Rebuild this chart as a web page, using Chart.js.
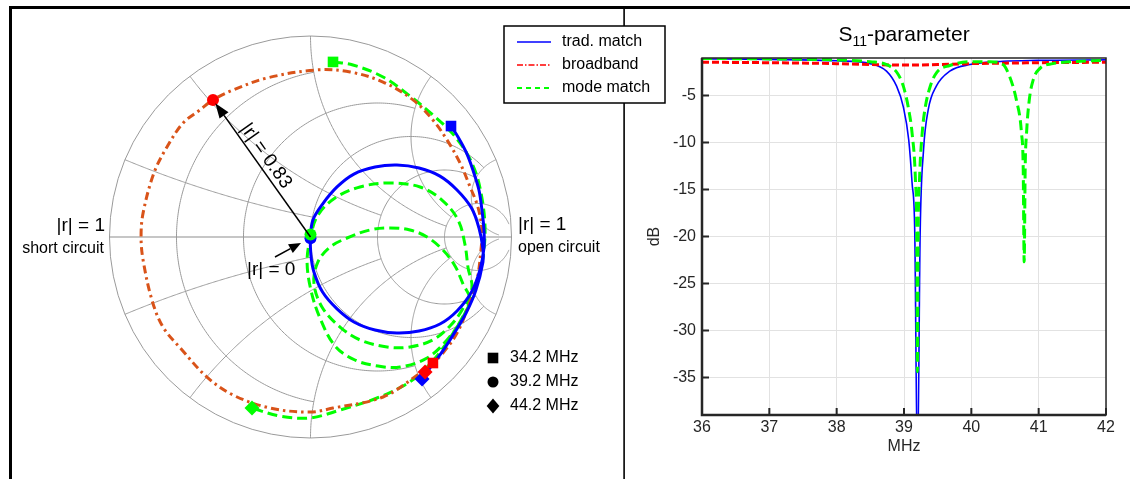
<!DOCTYPE html>
<html>
<head>
<meta charset="utf-8">
<script src="https://cdn.jsdelivr.net/npm/chart.js@4.4.1/dist/chart.umd.min.js"></script>
<style>
html, body { margin: 0; padding: 0; background: #fff; overflow: hidden; }
#wrap { position: relative; width: 1130px; height: 479px; }
#wrap canvas { position: absolute; left: 0; top: 0; }
</style>
</head>
<body>
<div id="wrap">
  <canvas id="s11" width="1130" height="479"></canvas>
  <canvas id="smith" width="1130" height="479"></canvas>
</div>
<script>
(() => {
'use strict';
const FONT = '"Liberation Sans", Arial, Helvetica, sans-serif';
const BLUE = '#0000ff', ORANGE = '#d95319', RED = '#ff0000', GREEN = '#00ff00', INK = '#000000';

// ---- Smith chart traces: reflection coefficient (Re, Im) ----
const tradRe = [0.699, 0.734, 0.774, 0.808, 0.838, 0.853, 0.863, 0.863, 0.843, 0.801, 0.729, 0.644, 0.540, 0.430, 0.321, 0.216, 0.132, 0.060, 0.017, 0.002, 0, 0.012, 0.060, 0.132, 0.216, 0.321, 0.430, 0.540, 0.644, 0.729, 0.801, 0.838, 0.858, 0.858, 0.823, 0.774, 0.709, 0.644, 0.590, 0.555];
const tradIm = [0.552, 0.498, 0.423, 0.333, 0.234, 0.134, 0.035, -0.055, -0.164, -0.274, -0.368, -0.433, -0.468, -0.478, -0.463, -0.423, -0.358, -0.274, -0.174, -0.090, 0, 0.085, 0.164, 0.249, 0.313, 0.348, 0.358, 0.343, 0.303, 0.234, 0.144, 0.045, -0.060, -0.124, -0.264, -0.378, -0.488, -0.587, -0.657, -0.706];

const broadRe = [0.609, 0.545, 0.361, 0.112, -0.002, -0.201, -0.386, -0.515, -0.639, -0.734, -0.789, -0.833, -0.843, -0.833, -0.779, -0.714, -0.634, -0.550, -0.485, -0.386, -0.216, 0.027, 0.197, 0.361, 0.510, 0.609, 0.679, 0.744, 0.794, 0.833, 0.853, 0.848, 0.828, 0.784, 0.729, 0.659, 0.570];
const broadIm = [-0.627, -0.677, -0.796, -0.851, -0.871, -0.851, -0.786, -0.697, -0.562, -0.448, -0.313, -0.114, 0, 0.119, 0.318, 0.448, 0.567, 0.632, 0.682, 0.731, 0.791, 0.831, 0.821, 0.771, 0.682, 0.582, 0.483, 0.368, 0.249, 0.149, 0.035, -0.065, -0.214, -0.348, -0.478, -0.577, -0.672];

const modeRe = [0.112, 0.211, 0.361, 0.495, 0.609, 0.704, 0.774, 0.823, 0.853, 0.868, 0.863, 0.843, 0.808,
  0.759, 0.679, 0.580, 0.445, 0.336, 0.221, 0.122, 0.047, 0.002, -0.017, 0, 0.037, 0.122, 0.246, 0.396, 0.545, 0.654, 0.734, 0.769, 0.784, 0.803,
  0.754, 0.694, 0.609, 0.495, 0.381, 0.246, 0.147, 0.057, 0.017, 0.037, 0.097, 0.182, 0.296, 0.396, 0.495, 0.580, 0.659, 0.719, 0.759, 0.794,
  0.754, 0.694, 0.629, 0.555, 0.470, 0.331, 0.147, -0.002, -0.152, -0.291];
const modeIm = [0.871, 0.856, 0.796, 0.701, 0.607, 0.517, 0.423, 0.318, 0.194, 0.060, -0.065, -0.174, -0.274,
  -0.398, -0.512, -0.602, -0.647, -0.642, -0.612, -0.542, -0.403, -0.264, -0.124, 0, 0.109, 0.194, 0.249, 0.269, 0.249, 0.184, 0.085, -0.040, -0.154, -0.254,
  -0.363, -0.443, -0.512, -0.547, -0.547, -0.512, -0.448, -0.348, -0.229, -0.124, -0.050, -0.005, 0.035, 0.045, 0.035, 0, -0.065, -0.144, -0.234, -0.313,
  -0.403, -0.502, -0.592, -0.672, -0.736, -0.801, -0.861, -0.900, -0.891, -0.851];

// markers at 34.2 / 39.2 / 44.2 MHz
const markerLabels = ['34.2 MHz', '39.2 MHz', '44.2 MHz'];
const markerStyles = ['rect', 'circle', 'rectRot'];
const tradMarkRe = [0.699, 0, 0.555],      tradMarkIm = [0.552, -0.006, -0.706];
const broadMarkRe = [0.609, -0.485, 0.570], broadMarkIm = [-0.627, 0.682, -0.672];
const modeMarkRe = [0.112, 0, -0.291],     modeMarkIm = [0.871, 0.012, -0.851];

// Smith grid (resistance / reactance values and where each one stops)
const gridValues = [0.2, 0.5, 1, 2, 5];
const gridLimits = [1, 2, 5, 5, 30];

// ---- S11 magnitude ----
const tradFreq = [36, 37, 38, 38.5, 38.74, 38.89, 38.99, 39.07, 39.12, 39.16, 39.2, 39.24, 39.29, 39.36, 39.48, 39.68, 39.98, 40.47, 40.98, 42];
const tradDb   = [-1.1, -1.15, -1.3, -1.6, -2.4, -4.0, -6.2, -9.7, -14.3, -19.6, -45, -19.6, -10.8, -6.5, -4.0, -2.4, -1.7, -1.35, -1.25, -1.2];
const broadFreq = [36, 37, 38, 38.5, 39, 39.5, 40, 40.5, 41, 42];
const broadDb   = [-1.45, -1.5, -1.6, -1.7, -1.75, -1.7, -1.6, -1.55, -1.5, -1.45];
const modeFreq = [36, 37, 38, 38.5, 38.74, 38.9, 38.99, 39.07, 39.12, 39.17, 39.19, 39.2, 39.21, 39.23, 39.27, 39.31, 39.39, 39.49, 39.68, 39.98, 40.28, 40.47, 40.57, 40.67, 40.745, 40.77, 40.785, 40.8, 40.82, 40.86, 40.92, 41.02, 41.21, 41.47, 42];
const modeDb   = [-1.05, -1.1, -1.2, -1.4, -1.7, -2.6, -4.0, -6.5, -9.0, -14, -20, -34.4, -20, -14, -9.0, -6.5, -4.0, -2.5, -1.8, -1.4, -1.4, -1.7, -3.0, -5.5, -9.0, -12.6, -22.7, -12.6, -9.0, -5.5, -3.3, -2.1, -1.6, -1.4, -1.25];

const freqTicks = [36, 37, 38, 39, 40, 41, 42];
const dbTicks = [-35, -30, -25, -20, -15, -10, -5];
const seriesNames = ['trad. match', 'broadband', 'mode match'];

const pts = (xs, ys) => xs.map((v, i) => ({ x: v, y: ys[i] }));

function gammaOf(r, x) { // z = r + jx -> reflection coefficient
    const d = (r + 1) * (r + 1) + x * x;
    return [(r * r + x * x - 1) / d, 2 * x / d];
}

function arrow(ctx, from, to, headLen, headHalf) {
    const ang = Math.atan2(to[1] - from[1], to[0] - from[0]);
    const bx = to[0] - headLen * Math.cos(ang), by = to[1] - headLen * Math.sin(ang);
    ctx.strokeStyle = INK; ctx.lineWidth = 1.5; ctx.setLineDash([]);
    ctx.beginPath(); ctx.moveTo(from[0], from[1]); ctx.lineTo(bx, by); ctx.stroke();
    ctx.beginPath();
    ctx.moveTo(to[0], to[1]);
    ctx.lineTo(bx + headHalf * Math.sin(ang), by - headHalf * Math.cos(ang));
    ctx.lineTo(bx - headHalf * Math.sin(ang), by + headHalf * Math.cos(ang));
    ctx.closePath(); ctx.fillStyle = INK; ctx.fill();
}

function marker(ctx, style, x, y, r) {
    ctx.beginPath();
    if (style === 'rect') { const s = r * Math.SQRT1_2; ctx.rect(x - s, y - s, 2 * s, 2 * s); }
    else if (style === 'rectRot') { ctx.moveTo(x, y - r); ctx.lineTo(x + r * 0.85, y); ctx.lineTo(x, y + r); ctx.lineTo(x - r * 0.85, y); ctx.closePath(); }
    else ctx.arc(x, y, r, 0, Math.PI * 2);
    ctx.fill();
}

const smithPlugin = {
    id: 'smithGrid',
    beforeDatasetsDraw(chart) {
        const { ctx, scales: { x, y } } = chart;
        const P = (gx, gy) => [x.getPixelForValue(gx), y.getPixelForValue(gy)];
        const poly = (list) => {
            ctx.beginPath();
            list.forEach((p, i) => { const q = P(p[0], p[1]); i ? ctx.lineTo(q[0], q[1]) : ctx.moveTo(q[0], q[1]); });
            ctx.stroke();
        };
        ctx.save();
        // real axis
        ctx.strokeStyle = '#c6c6c6'; ctx.lineWidth = 2;
        poly([[-1, 0], [1, 0]]);
        ctx.strokeStyle = '#9a9a9a'; ctx.lineWidth = 1;
        // outer circle
        const c0 = P(0, 0), rad = x.getPixelForValue(1) - c0[0];
        ctx.beginPath(); ctx.arc(c0[0], c0[1], rad, 0, Math.PI * 2); ctx.stroke();
        // constant resistance circles
        gridValues.forEach((r, i) => {
            const c = r / (1 + r), rho = 1 / (1 + r);
            const e = gammaOf(r, gridLimits[i]);
            const a = Math.atan2(e[1], e[0] - c);
            const list = [];
            for (let k = 0; k <= 240; k++) {
                const t = a + (2 * Math.PI - 2 * a) * k / 240;
                list.push([c + rho * Math.cos(t), rho * Math.sin(t)]);
            }
            poly(list);
        });
        // constant reactance arcs
        gridValues.forEach((v, i) => {
            [v, -v].forEach(xv => {
                const cy = 1 / xv, rho = Math.abs(1 / xv);
                const p1 = gammaOf(0, xv), p2 = gammaOf(gridLimits[i], xv);
                const a1 = Math.atan2(p1[1] - cy, p1[0] - 1);
                let d = Math.atan2(p2[1] - cy, p2[0] - 1) - a1;
                while (d > Math.PI) d -= 2 * Math.PI;
                while (d < -Math.PI) d += 2 * Math.PI;
                const list = [];
                for (let k = 0; k <= 160; k++) {
                    const t = a1 + d * k / 160;
                    list.push([1 + rho * Math.cos(t), cy + rho * Math.sin(t)]);
                }
                poly(list);
            });
        });
        ctx.restore();
    },
    afterDraw(chart) {
        const { ctx, scales: { x, y } } = chart;
        const P = (gx, gy) => [x.getPixelForValue(gx), y.getPixelForValue(gy)];
        ctx.save();
        // panel frame
        ctx.fillStyle = INK;
        ctx.fillRect(9, 6, 1121, 3);
        ctx.fillRect(9, 6, 3, 473);
        ctx.fillRect(623.3, 8, 1.6, 471);

        // |r| annotations
        const centre = P(0, 0);
        const tgt = P(broadMarkRe[1], broadMarkIm[1]);
        const ang = Math.atan2(tgt[1] - centre[1], tgt[0] - centre[0]);
        arrow(ctx, centre, [tgt[0] - 4 * Math.cos(ang), tgt[1] - 4 * Math.sin(ang)], 15, 5.5);
        arrow(ctx, [275, 257], [301, 243], 12, 5);

        ctx.fillStyle = INK;
        ctx.textBaseline = 'middle';
        ctx.font = `19px ${FONT}`;
        ctx.textAlign = 'right'; ctx.fillText('|r| = 1', 105, 226);
        ctx.textAlign = 'left'; ctx.fillText('|r| = 1', 518, 225);
        ctx.fillText('|r| = 0', 247, 270);
        ctx.font = `16px ${FONT}`;
        ctx.textAlign = 'right'; ctx.fillText('short circuit', 104, 249);
        ctx.textAlign = 'left'; ctx.fillText('open circuit', 518, 248);

        ctx.save();
        ctx.translate(266, 156);
        ctx.rotate(ang + Math.PI);
        ctx.font = `19px ${FONT}`; ctx.textAlign = 'center';
        ctx.fillText('|r| = 0.83', 0, 0);
        ctx.restore();

        // frequency marker key
        ctx.font = `16px ${FONT}`; ctx.textAlign = 'left';
        [358, 382, 406].forEach((py, i) => {
            ctx.fillStyle = INK;
            marker(ctx, markerStyles[i], 493, py, markerStyles[i] === 'circle' ? 5.5 : 7.5);
            ctx.fillText(markerLabels[i], 510, py);
        });

        // series legend
        ctx.fillStyle = '#fff'; ctx.fillRect(504, 26, 161, 77);
        ctx.strokeStyle = INK; ctx.lineWidth = 1.5; ctx.strokeRect(504, 26, 161, 77);
        const legendStyles = [
            { color: BLUE, dash: [], width: 1.5 },
            { color: RED, dash: [6, 2, 1.5, 2], width: 1.5 },
            { color: GREEN, dash: [5, 4], width: 2 }
        ];
        [42, 65, 88].forEach((py, i) => {
            const s = legendStyles[i];
            ctx.strokeStyle = s.color; ctx.lineWidth = s.width; ctx.setLineDash(s.dash);
            ctx.beginPath(); ctx.moveTo(517, py); ctx.lineTo(551, py); ctx.stroke();
            ctx.setLineDash([]);
            ctx.fillStyle = INK; ctx.fillText(seriesNames[i], 562, py);
        });
        ctx.restore();
    }
};

new Chart(document.getElementById('smith'), {
    type: 'scatter',
    data: {
        datasets: [
            { label: seriesNames[2], data: pts(modeRe, modeIm), showLine: true, borderColor: GREEN, borderWidth: 3, borderDash: [10, 5], pointRadius: 0, tension: 0.35, order: 5 },
            { label: seriesNames[1], data: pts(broadRe, broadIm), showLine: true, borderColor: ORANGE, borderWidth: 3, borderDash: [8, 4, 2.5, 4], pointRadius: 0, tension: 0.35, order: 4 },
            { label: seriesNames[0], data: pts(tradRe, tradIm), showLine: true, borderColor: BLUE, borderWidth: 3, pointRadius: 0, tension: 0.35, order: 3 },
            { label: 'trad marks', data: pts(tradMarkRe, tradMarkIm), pointStyle: markerStyles, pointRadius: [7.5, 6, 7.5], backgroundColor: BLUE, borderColor: BLUE, borderWidth: 0, order: 2 },
            { label: 'mode marks', data: pts(modeMarkRe, modeMarkIm), pointStyle: markerStyles, pointRadius: [7.5, 6, 7.5], backgroundColor: GREEN, borderColor: GREEN, borderWidth: 0, order: 1 },
            { label: 'broad marks', data: pts(broadMarkRe, broadMarkIm), pointStyle: markerStyles, pointRadius: [7.5, 6, 7.5], backgroundColor: RED, borderColor: RED, borderWidth: 0, order: 0 }
        ]
    },
    options: {
        responsive: false, animation: false, devicePixelRatio: 1, events: [],
        layout: { padding: { left: 109.5, top: 36, right: 618.5, bottom: 41 } },
        plugins: { legend: { display: false }, tooltip: { enabled: false } },
        elements: { line: { capBezierPoints: false } },
        datasets: { scatter: { clip: false } },
        scales: {
            x: { type: 'linear', min: -1, max: 1, display: false },
            y: { type: 'linear', min: -1, max: 1, display: false }
        }
    },
    plugins: [smithPlugin]
});

// ---- S11 plot ----
const axesPlugin = {
    id: 's11Axes',
    afterDraw(chart) {
        const { ctx, chartArea: a, scales: { x, y } } = chart;
        ctx.save();
        ctx.strokeStyle = '#262626';
        ctx.lineWidth = 1.5;
        ctx.strokeRect(a.left, a.top, a.right - a.left, a.bottom - a.top);
        ctx.lineWidth = 2.5;
        ctx.beginPath(); ctx.moveTo(a.left, a.top); ctx.lineTo(a.left, a.bottom); ctx.lineTo(a.right, a.bottom); ctx.stroke();
        ctx.lineWidth = 2;
        ctx.beginPath();
        dbTicks.forEach(v => { const py = y.getPixelForValue(v); ctx.moveTo(a.left, py); ctx.lineTo(a.left + 7, py); });
        freqTicks.forEach(v => { const px = x.getPixelForValue(v); ctx.moveTo(px, a.bottom); ctx.lineTo(px, a.bottom - 7); });
        ctx.stroke();

        ctx.fillStyle = '#000';
        ctx.textBaseline = 'alphabetic';
        ctx.textAlign = 'left';
        const cx = (a.left + a.right) / 2;
        const big = `21px ${FONT}`, small = `14px ${FONT}`;
        ctx.font = big; const wS = ctx.measureText('S').width, wP = ctx.measureText('-parameter').width;
        ctx.font = small; const w11 = ctx.measureText('11').width;
        let tx = cx - (wS + w11 + wP) / 2;
        ctx.font = big; ctx.fillText('S', tx, 41); tx += wS;
        ctx.font = small; ctx.fillText('11', tx, 46); tx += w11;
        ctx.font = big; ctx.fillText('-parameter', tx, 41);

        ctx.fillStyle = '#262626';
        ctx.font = `16px ${FONT}`;
        ctx.textAlign = 'center'; ctx.textBaseline = 'middle';
        ctx.fillText('MHz', cx, 447);
        ctx.save();
        ctx.translate(655, (a.top + a.bottom) / 2);
        ctx.rotate(-Math.PI / 2);
        ctx.fillText('dB', 0, 0);
        ctx.restore();
        ctx.restore();
    }
};

new Chart(document.getElementById('s11'), {
    type: 'line',
    data: {
        datasets: [
            { label: seriesNames[2], data: pts(modeFreq, modeDb), borderColor: GREEN, borderWidth: 3, borderDash: [10, 5], pointRadius: 0, cubicInterpolationMode: 'monotone', order: 0 },
            { label: seriesNames[1], data: pts(broadFreq, broadDb), borderColor: RED, borderWidth: 3, borderDash: [7, 3], pointRadius: 0, cubicInterpolationMode: 'monotone', order: 1 },
            { label: seriesNames[0], data: pts(tradFreq, tradDb), borderColor: BLUE, borderWidth: 1.6, pointRadius: 0, cubicInterpolationMode: 'monotone', order: 2 }
        ]
    },
    options: {
        responsive: false, animation: false, devicePixelRatio: 1, events: [],
        layout: { padding: { left: 626, top: 58, right: 24, bottom: 0 } },
        plugins: { legend: { display: false }, tooltip: { enabled: false } },
        scales: {
            x: {
                type: 'linear', min: 36, max: 42,
                afterBuildTicks: s => { s.ticks = freqTicks.map(v => ({ value: v })); },
                afterFit: s => { s.height = 64; },
                grid: { color: '#e2e2e2', drawTicks: false },
                border: { display: false },
                ticks: { color: '#262626', font: { family: FONT, size: 16 }, padding: 3, maxRotation: 0 }
            },
            y: {
                type: 'linear', min: -39, max: -1,
                afterBuildTicks: s => { s.ticks = dbTicks.map(v => ({ value: v })); },
                afterFit: s => { s.width = 76; },
                grid: { color: '#e2e2e2', drawTicks: false },
                border: { display: false },
                ticks: { color: '#262626', font: { family: FONT, size: 16 }, padding: 6 }
            }
        }
    },
    plugins: [axesPlugin]
});
})();
</script>
</body>
</html>
